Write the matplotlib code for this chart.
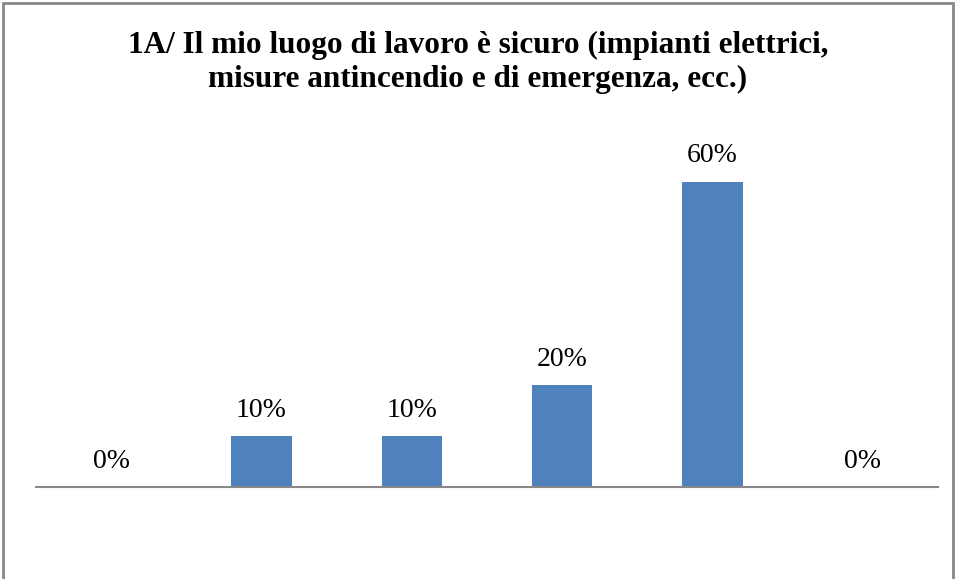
import matplotlib.pyplot as plt
from matplotlib.patches import Rectangle

# risposte (percentuali)
categories = ['1', '2', '3', '4', '5', '6']
values = [0, 10, 10, 20, 60, 0]
labels = ['0%', '10%', '10%', '20%', '60%', '0%']
title_lines = ['1A/ Il mio luogo di lavoro è sicuro (impianti elettrici,',
               'misure antincendio e di emergenza, ecc.)']

plt.rcParams['font.family'] = ['Liberation Serif', 'DejaVu Serif']

W, H = 956, 579
fig = plt.figure(figsize=(W / 100, H / 100), dpi=100)
ax = fig.add_axes([36 / W, 1 - 487 / H, 902 / W, 356 / H])

x = range(len(categories))
ax.bar(x, values, width=0.4, color='#4f81bd')
for xi, v, lab in zip(x, values, labels):
    ax.annotate(lab, (xi, v), xytext=(0, 14), textcoords='offset points',
                ha='center', va='baseline', fontsize=20)

ax.set_xlim(-0.5, len(categories) - 0.5)
ax.set_ylim(0, 70)
for s in ['top', 'right', 'left']:
    ax.spines[s].set_visible(False)
ax.spines['bottom'].set_color('#888888')
ax.spines['bottom'].set_linewidth(1.5)
ax.set_xticks([])
ax.set_yticks([])

# titolo su due righe
for i, line in enumerate(title_lines):
    fig.text(478 / W, 1 - (53 + 34 * i) / H, line, ha='center',
             va='baseline', fontsize=22.5, fontweight='bold')

# bordo del grafico
fig.patches.append(Rectangle((3 / W, -0.01), 950 / W, 1 - 3 / H + 0.01,
                             transform=fig.transFigure, fill=False,
                             edgecolor='#888888', linewidth=2))

plt.savefig('out.png', dpi=100)
